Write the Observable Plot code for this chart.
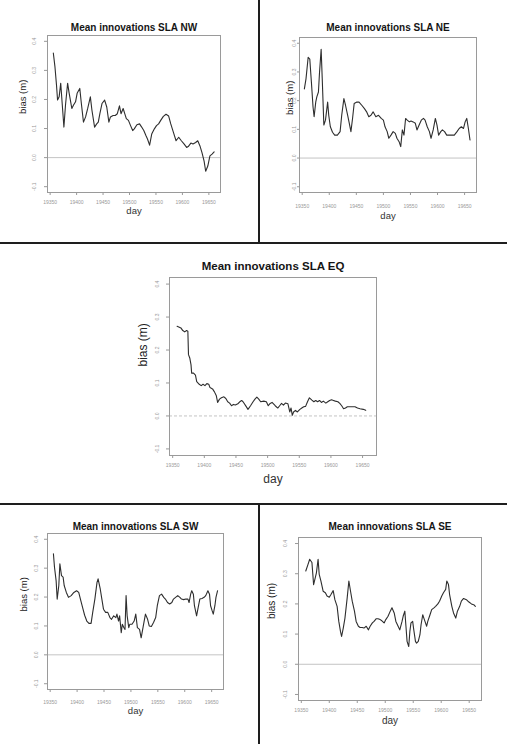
<!DOCTYPE html>
<html><head><meta charset="utf-8">
<script src="https://cdn.jsdelivr.net/npm/d3@7"></script>
<script src="https://cdn.jsdelivr.net/npm/@observablehq/plot@0.6"></script>
<style>
body{margin:0;background:#fff;}
#root{position:relative;width:507px;height:744px;overflow:hidden;background:#fff;}
.sep{position:absolute;background:#1e1e1e;}
.panel{position:absolute;}
</style></head><body><div id="root"></div>
<script>
const xTicks = [19350, 19400, 19450, 19500, 19550, 19600, 19650];
const yTicks = [-0.1, 0.0, 0.1, 0.2, 0.3, 0.4];
const titles = ["Mean innovations SLA NW", "Mean innovations SLA NE", "Mean innovations SLA EQ", "Mean innovations SLA SW", "Mean innovations SLA SE"];
const xLabel = "day";
const yLabel = "bias (m)";

const nwDays = [19356,19359,19362,19364,19367,19370,19373,19376,19379,19383,19386,19391,19394,19398,19401,19406,19409,19413,19417,19421,19426,19429,19434,19438,19441,19444,19448,19453,19457,19461,19464,19469,19473,19477,19481,19484,19488,19491,19494,19498,19502,19506,19509,19514,19519,19523,19527,19531,19534,19538,19542,19547,19551,19555,19559,19564,19569,19574,19578,19583,19588,19593,19598,19603,19608,19611,19616,19620,19625,19629,19633,19637,19641,19644,19648,19652,19656,19660];
const nwBias = [0.360,0.314,0.250,0.198,0.209,0.256,0.180,0.105,0.180,0.256,0.221,0.169,0.180,0.192,0.221,0.238,0.186,0.122,0.140,0.169,0.209,0.163,0.105,0.116,0.122,0.151,0.186,0.198,0.174,0.122,0.140,0.145,0.145,0.151,0.178,0.151,0.169,0.151,0.134,0.128,0.110,0.093,0.099,0.113,0.116,0.105,0.093,0.076,0.064,0.043,0.081,0.099,0.110,0.116,0.128,0.142,0.149,0.143,0.116,0.087,0.058,0.070,0.058,0.047,0.035,0.038,0.050,0.047,0.052,0.058,0.041,0.017,-0.012,-0.047,-0.029,0.006,0.012,0.020];

const neDays = [19354,19357,19361,19364,19367,19370,19372,19375,19377,19380,19382,19385,19387,19390,19393,19397,19399,19402,19406,19410,19415,19420,19423,19427,19430,19434,19437,19440,19443,19446,19451,19455,19460,19465,19469,19473,19477,19481,19486,19491,19496,19500,19503,19507,19510,19514,19518,19522,19525,19529,19532,19535,19538,19541,19544,19548,19551,19555,19559,19562,19566,19570,19574,19577,19581,19585,19588,19592,19596,19599,19602,19606,19609,19613,19617,19622,19627,19631,19636,19640,19644,19648,19651,19654,19657,19660];
const neBias = [0.241,0.276,0.351,0.345,0.264,0.178,0.144,0.195,0.213,0.230,0.299,0.379,0.276,0.115,0.132,0.195,0.149,0.109,0.090,0.080,0.080,0.092,0.149,0.207,0.184,0.149,0.121,0.092,0.138,0.190,0.195,0.195,0.184,0.172,0.161,0.144,0.149,0.161,0.144,0.149,0.138,0.132,0.109,0.092,0.069,0.080,0.092,0.086,0.069,0.057,0.040,0.098,0.080,0.138,0.132,0.126,0.129,0.126,0.121,0.098,0.115,0.132,0.138,0.132,0.109,0.092,0.069,0.098,0.138,0.115,0.080,0.092,0.098,0.092,0.080,0.080,0.080,0.080,0.092,0.103,0.109,0.103,0.126,0.138,0.103,0.063];

const eqDays = [19357,19363,19366,19369,19372,19374,19375,19377,19379,19380,19383,19386,19388,19392,19395,19398,19401,19404,19407,19409,19413,19416,19419,19421,19424,19427,19431,19434,19437,19440,19443,19446,19449,19453,19456,19459,19462,19466,19469,19473,19477,19480,19483,19486,19489,19494,19498,19501,19504,19507,19512,19516,19519,19522,19525,19528,19532,19535,19537,19539,19541,19544,19547,19551,19554,19557,19560,19563,19566,19570,19573,19576,19579,19582,19585,19588,19592,19595,19598,19601,19604,19607,19611,19614,19617,19620,19623,19626,19631,19635,19638,19642,19646,19651,19655];
const eqBias = [0.272,0.267,0.259,0.255,0.259,0.257,0.186,0.176,0.155,0.130,0.130,0.124,0.104,0.096,0.092,0.096,0.092,0.098,0.096,0.086,0.082,0.073,0.061,0.041,0.051,0.055,0.058,0.053,0.043,0.039,0.031,0.035,0.033,0.037,0.043,0.047,0.041,0.029,0.020,0.031,0.043,0.051,0.057,0.051,0.043,0.045,0.043,0.031,0.038,0.041,0.031,0.024,0.031,0.038,0.033,0.039,0.037,0.012,0.024,0.002,0.012,0.017,0.012,0.020,0.024,0.028,0.029,0.043,0.055,0.048,0.043,0.047,0.043,0.047,0.041,0.045,0.039,0.043,0.047,0.049,0.047,0.045,0.043,0.038,0.031,0.022,0.024,0.028,0.028,0.028,0.028,0.024,0.022,0.020,0.017];

const swDays = [19356,19358,19361,19363,19366,19368,19371,19374,19376,19380,19384,19389,19394,19399,19403,19407,19411,19414,19418,19422,19426,19429,19433,19437,19439,19443,19446,19449,19453,19457,19461,19464,19468,19472,19474,19477,19479,19482,19484,19487,19489,19491,19493,19496,19498,19502,19506,19509,19512,19516,19519,19523,19527,19531,19534,19538,19542,19546,19549,19553,19557,19561,19564,19568,19572,19576,19579,19583,19587,19591,19594,19598,19602,19606,19608,19611,19613,19616,19618,19622,19625,19628,19632,19636,19639,19643,19646,19648,19651,19653,19656,19658,19661];
const swBias = [0.350,0.303,0.257,0.193,0.240,0.315,0.274,0.269,0.240,0.216,0.199,0.205,0.216,0.222,0.216,0.187,0.158,0.137,0.117,0.109,0.109,0.147,0.193,0.251,0.263,0.228,0.193,0.158,0.147,0.147,0.129,0.123,0.135,0.129,0.141,0.117,0.135,0.077,0.106,0.094,0.088,0.205,0.135,0.094,0.106,0.106,0.117,0.141,0.094,0.088,0.059,0.100,0.141,0.123,0.100,0.098,0.112,0.129,0.170,0.205,0.210,0.199,0.193,0.181,0.176,0.181,0.193,0.199,0.205,0.199,0.193,0.191,0.193,0.193,0.181,0.210,0.222,0.210,0.170,0.135,0.164,0.193,0.195,0.199,0.205,0.222,0.210,0.170,0.152,0.141,0.170,0.199,0.222];

const seDays = [19358,19362,19365,19369,19372,19375,19377,19380,19382,19385,19389,19393,19396,19400,19403,19407,19410,19414,19417,19420,19422,19425,19428,19432,19435,19438,19441,19445,19448,19452,19455,19459,19462,19466,19470,19473,19477,19480,19484,19487,19491,19494,19498,19501,19505,19509,19512,19516,19519,19523,19526,19530,19532,19535,19537,19539,19542,19544,19546,19549,19551,19554,19556,19559,19562,19564,19567,19569,19571,19574,19576,19580,19583,19587,19590,19594,19597,19601,19604,19608,19610,19613,19615,19619,19622,19626,19629,19633,19636,19640,19645,19649,19654,19659,19661];
const seBias = [0.309,0.331,0.348,0.337,0.264,0.287,0.303,0.348,0.298,0.276,0.242,0.237,0.226,0.222,0.231,0.244,0.214,0.192,0.142,0.109,0.092,0.120,0.153,0.220,0.276,0.242,0.209,0.176,0.142,0.126,0.122,0.122,0.120,0.126,0.114,0.126,0.137,0.142,0.151,0.151,0.148,0.144,0.137,0.148,0.159,0.176,0.187,0.170,0.142,0.126,0.114,0.142,0.159,0.176,0.126,0.076,0.059,0.109,0.137,0.142,0.114,0.076,0.070,0.076,0.098,0.131,0.164,0.153,0.142,0.126,0.142,0.164,0.181,0.187,0.192,0.200,0.209,0.226,0.237,0.248,0.276,0.264,0.231,0.192,0.170,0.153,0.176,0.192,0.209,0.218,0.214,0.207,0.200,0.196,0.192];

const FONT = '"Liberation Sans", Arial, Helvetica, sans-serif';
const root = document.getElementById("root");

function sep(l, t, w, h) {
  const d = document.createElement("div");
  d.className = "sep";
  Object.assign(d.style, {left: l + "px", top: t + "px", width: w + "px", height: h + "px"});
  root.appendChild(d);
}

function panel(p) {
  const rows = p.days.map((d, i) => ({day: d, bias: p.bias[i]}));
  const w = p.w, h = p.h;
  const chart = Plot.plot({
    width: w, height: h,
    marginLeft: p.fl, marginRight: w - p.fr, marginTop: p.ft, marginBottom: h - p.fb,
    style: {fontFamily: FONT, background: "transparent", overflow: "visible"},
    x: {domain: [19345, 19672]},
    y: {domain: [-0.12, 0.42]},
    marks: [
      Plot.ruleY([0], {stroke: "#c4c4c4", strokeWidth: 1, strokeDasharray: p.dash ? "3,2" : null}),
      Plot.frame({stroke: "#9a9a9a", strokeWidth: 1}),
      Plot.line(rows, {x: "day", y: "bias", stroke: "#2e2e2e", strokeWidth: 1.1}),
      Plot.axisX({ticks: xTicks, tickFormat: d => String(d), tickSize: 3, tickPadding: p.xpad, fontSize: 5, color: "#999", label: null}),
      Plot.axisY({ticks: yTicks, tickFormat: d => d.toFixed(1), tickRotate: -90, tickSize: p.ytsize, tickPadding: p.ypad, fontSize: 5, color: "#999", label: null}),
      Plot.text([p.title], {frameAnchor: "top", dy: p.tdy, fontSize: p.tsize, fontWeight: "bold", fill: "#151515"}),
      Plot.text([xLabel], {frameAnchor: "bottom", dy: p.xldy, fontSize: p.lsize, fill: "#333"}),
      Plot.text([yLabel], {frameAnchor: "left", dx: p.yldx, rotate: -90, fontSize: p.lsize, fill: "#222"})
    ]
  });
  const holder = document.createElement("div");
  holder.className = "panel";
  holder.style.left = p.x + "px";
  holder.style.top = p.y + "px";
  holder.appendChild(chart);
  root.appendChild(holder);
}

panel({title: titles[0], days: nwDays, bias: nwBias, x: 0, y: 0, w: 257, h: 241,
  fl: 47, fr: 220, ft: 35, fb: 192, tdy: -12, tsize: 10, xldy: 21, lsize: 9.5, yldx: -25,
  xpad: 4.5, ytsize: 3, ypad: 9});
panel({title: titles[1], days: neDays, bias: neBias, x: 261, y: 0, w: 246, h: 241,
  fl: 38, fr: 215, ft: 37, fb: 192, tdy: -14, tsize: 10, xldy: 26, lsize: 9.5, yldx: -10,
  xpad: 8.5, ytsize: 2, ypad: 2});
panel({title: titles[2], days: eqDays, bias: eqBias, x: 0, y: 244, w: 507, h: 259,
  fl: 169, fr: 376, ft: 33, fb: 211, tdy: -16, tsize: 11.5, xldy: 27, lsize: 12, yldx: -26,
  xpad: 4.5, ytsize: 3, ypad: 8, dash: true});
panel({title: titles[3], days: swDays, bias: swBias, x: 0, y: 506, w: 257, h: 238,
  fl: 47, fr: 223, ft: 27, fb: 183, tdy: -11, tsize: 10, xldy: 24, lsize: 9.5, yldx: -24,
  xpad: 7.5, ytsize: 3, ypad: 7});
panel({title: titles[4], days: seDays, bias: seBias, x: 261, y: 506, w: 246, h: 238,
  fl: 37, fr: 220, ft: 31, fb: 194, tdy: -15, tsize: 10, xldy: 23, lsize: 10, yldx: -27,
  xpad: 4.5, ytsize: 3, ypad: 9});

sep(258, 0, 2, 242);
sep(0, 242, 507, 2);
sep(0, 503, 507, 2);
sep(258, 503, 2, 241);
</script>
</body></html>
